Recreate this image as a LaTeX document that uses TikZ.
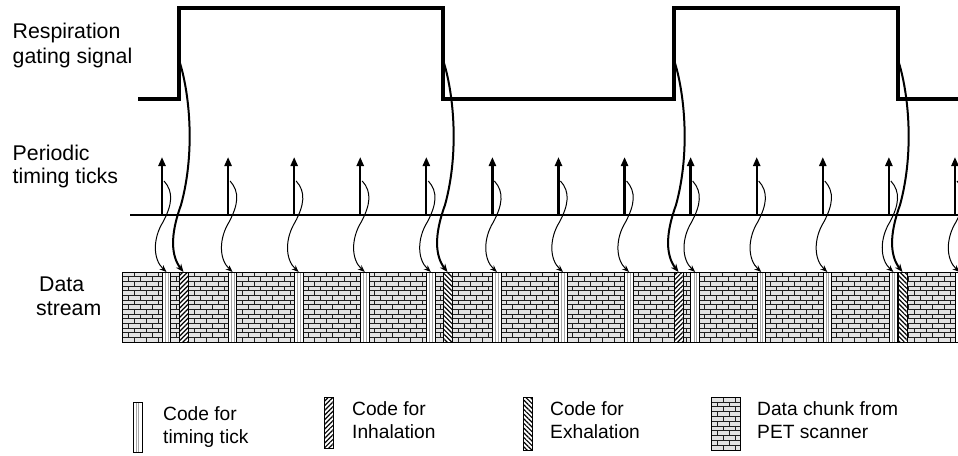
\documentclass[tikz,border=0pt]{standalone}
\usepackage{fontspec}
\setmainfont{Liberation Sans}
\usetikzlibrary{arrows.meta,patterns,patterns.meta}
\newcommand\brickfill[5]{% x0, y0, x1, y1, rows
  \begin{scope}
    \clip (#1,#2) rectangle (#3,#4);
    \fill[gray!22] (#1,#2) rectangle (#3,#4);
    \pgfmathsetmacro\bh{(#4-#2)/#5}
    \foreach \yy in {1,...,#5} \draw[brickline] (#1,#2+\bh*\yy) -- (#3,#2+\bh*\yy);
    \foreach \xx in {0,12,...,840}{
      \draw[brickline,dash pattern=on \bh pt off \bh pt] (#1+\xx,#2) -- (#1+\xx,#4);
      \draw[brickline,dash pattern=on \bh pt off \bh pt,dash phase=\bh pt] (#1+\xx+6,#2) -- (#1+\xx+6,#4);
    }
  \end{scope}}
\begin{document}
\begin{tikzpicture}[x=1pt,y=-1pt,
  lbl/.style={anchor=base west,inner sep=0pt,font=\fontsize{21.3}{25}\selectfont},
  leg/.style={anchor=base west,inner sep=0pt,font=\fontsize{19.2}{23}\selectfont},
  brickline/.style={gray!25!black,line width=0.6pt},
  strip/.style={draw=black,line width=0.8pt,inner sep=0pt,outer sep=0pt,minimum width=9pt,anchor=north},
  tickcode/.style={strip,fill=white,minimum width=8.5pt,path picture={
     \draw[gray!70,line width=0.7pt] ([xshift=3pt]path picture bounding box.north west) -- ([xshift=3pt]path picture bounding box.south west);
     \draw[gray!70,line width=0.7pt] ([xshift=5.6pt]path picture bounding box.north west) -- ([xshift=5.6pt]path picture bounding box.south west);}},
  inhcode/.style={strip,preaction={fill=white},pattern={Lines[angle=45,distance=3.3pt,line width=1.2pt]}},
  exhcode/.style={strip,preaction={fill=white},pattern={Lines[angle=-45,distance=3.3pt,line width=1.2pt]}},
  chunk/.style={draw=black,line width=1pt,inner sep=0pt,outer sep=0pt},
  tickarrow/.style={line width=2.3pt,-{Triangle[length=9pt,width=7pt]}},
  thincurve/.style={line width=1pt,-{Stealth[length=7pt,width=5.5pt]}},
  thickcurve/.style={line width=2pt,-{Stealth[length=8pt,width=6.5pt]}},
  signal/.style={line width=3.2pt,line join=miter}]
\useasboundingbox (0,0) rectangle (958,455);

% data stream
\brickfill{122}{272}{958}{342}{15}
\node[chunk,minimum width=836pt,minimum height=70pt,anchor=north west] (ds) at (122,272) {};

% timing-tick code strips
\foreach \i in {0,...,12}{
  \pgfmathsetmacro\tx{162+66.08*\i}
  \node[tickcode,minimum height=70pt] (tc\i) at (\tx+4.5,272) {};
}
% respiration code strips
\node[inhcode,minimum height=70pt] (gc1) at (183.5,272) {};
\node[exhcode,minimum height=70pt] (gc2) at (447.5,272) {};
\node[inhcode,minimum height=70pt] (gc3) at (678.5,272) {};
\node[exhcode,minimum height=70pt] (gc4) at (902.5,272) {};

% baseline of ticks
\coordinate (bl0) at (130,215);
\coordinate (bl1) at (958,215);
\draw[line width=1.2pt] (bl0) -- (bl1);

% respiration gating signal
\draw[signal] (138,99) -- (179,99) -- (179,8) -- (443,8) -- (443,99) -- (674,99) -- (674,8) -- (898,8) -- (898,99) -- (960,99);

% ticks and their thin connectors
\foreach \i in {0,...,12}{
  \pgfmathsetmacro\tx{162+66.08*\i}
  \coordinate (tb\i) at (\tx,215);
  \coordinate (tt\i) at (\tx,157);
  \coordinate (cs\i) at (\tx+2,181);
  \coordinate (cm\i) at (\tx+1,222);
  \draw[tickarrow] (tb\i) -- (tt\i);
  \draw[thincurve] (cs\i) .. controls +(10,11) and +(9,-17) .. (cm\i) .. controls +(-10,16) and +(-14,-13) .. (tc\i.north);
}

% thick connectors from signal transitions
\foreach \j/\T in {1/179,2/443,3/674,4/898}{
  \coordinate (gs\j) at (\T,60);
  \coordinate (gm\j) at (\T+2,205);
  \draw[thickcurve] (gs\j) .. controls +(10,30) and +(15,-55) .. (gm\j) .. controls +(-11,30) and +(-12.5,-16) .. (gc\j.north);
}

% labels
\node[lbl] (l1) at (12.5,38) {Respiration};
\node[lbl] (l2) at (12.5,63) {gating signal};
\node[lbl] (l3) at (12.5,160) {Periodic};
\node[lbl] (l4) at (12.5,183) {timing ticks};
\node[lbl] (l5) at (39,291) {Data};
\node[lbl] (l6) at (36,315) {stream};

% legend
\node[tickcode,minimum width=9pt,minimum height=50pt,anchor=north west] (lt) at (133,402) {};
\node[leg] (lt1) at (163,420) {Code for};
\node[leg] (lt2) at (163,443) {timing tick};
\node[inhcode,minimum height=51pt,anchor=north west] (li) at (324,397) {};
\node[leg] (li1) at (352,415) {Code for};
\node[leg] (li2) at (352,438) {Inhalation};
\node[exhcode,minimum height=53pt,anchor=north west] (le) at (523,397) {};
\node[leg] (le1) at (550,415) {Code for};
\node[leg] (le2) at (550,438) {Exhalation};
\brickfill{711}{397}{740}{450}{11}
\node[chunk,minimum width=29pt,minimum height=53pt,anchor=north west] (lc) at (711,397) {};
\node[leg] (lc1) at (757,415) {Data chunk from};
\node[leg] (lc2) at (757,438) {PET scanner};
\end{tikzpicture}
\end{document}
